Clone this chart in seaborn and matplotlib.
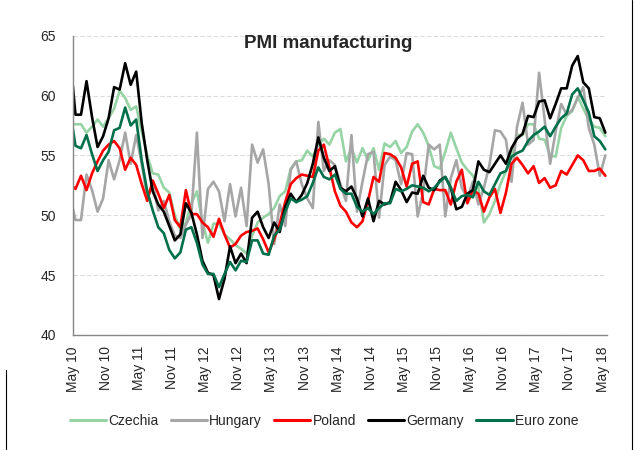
import numpy as np
import pandas as pd
import matplotlib
matplotlib.use('Agg')
import matplotlib.pyplot as plt
from matplotlib.lines import Line2D
import seaborn as sns

# Monthly PMI readings, Apr 2010 .. May 2018 (first point sits just left of the axis)
czechia = [57.6, 57.6, 57.6, 56.9, 57.4, 58.0, 57.4, 58.1, 58.9,
           60.4, 59.8, 58.8, 59.1, 57.0, 55.0, 53.5, 53.4, 52.3, 51.9, 50.0, 48.8,
           49.4, 51.0, 52.0, 49.4, 47.7, 49.3, 49.3, 48.4, 48.0, 47.5, 47.2, 46.8,
           48.3, 49.4, 49.8, 50.1, 50.6, 51.6, 52.0, 53.9, 54.5, 54.6, 55.4, 54.9,
           55.9, 56.4, 55.9, 56.9, 57.2, 54.5, 55.6, 54.4, 55.6, 54.6, 55.6, 53.8,
           56.0, 55.7, 56.2, 55.2, 55.7, 57.0, 57.6, 56.9, 55.8, 54.1, 53.9, 55.3,
           56.9, 55.6, 54.4, 53.8, 53.3, 52.3, 49.4, 50.1, 51.2, 52.6, 53.7, 55.1,
           56.7, 56.7, 57.6, 57.6, 56.4, 56.3, 55.0, 54.9, 57.3, 58.3, 58.7, 59.9,
           58.9, 58.0, 57.4, 57.3, 56.6]
hungary = [51.6, 49.6, 49.6, 53.4, 52.1, 50.3, 51.4, 54.6, 53.0,
           54.6, 56.9, 54.3, 56.7, 54.3, 51.5, 52.6, 50.4, 51.2, 49.5, 48.3, 48.1,
           49.2, 50.1, 56.9, 48.1, 52.2, 52.8, 52.0, 49.5, 52.6, 49.9, 52.3, 49.1,
           55.9, 54.4, 55.5, 52.6, 47.6, 50.9, 49.1, 53.8, 54.5, 52.6, 51.4, 50.6,
           57.8, 53.7, 54.6, 54.2, 52.6, 51.2, 56.7, 50.3, 52.8, 55.1, 55.3, 49.8,
           54.2, 54.9, 54.6, 52.6, 55.2, 55.1, 49.9, 52.0, 55.9, 55.5, 55.9, 49.9,
           53.1, 54.6, 52.3, 51.4, 52.8, 50.9, 52.3, 54.2, 57.1, 57.0, 56.3, 52.8,
           57.4, 59.4, 55.9, 56.3, 61.9, 58.0, 54.3, 57.0, 59.3, 58.4, 58.8, 59.8,
           60.7, 57.3, 55.9, 53.3, 55.0]
poland = [52.6, 52.2, 53.3, 52.1, 53.5, 54.5, 55.4, 55.9, 56.2,
          55.6, 53.8, 54.8, 54.2, 52.6, 51.2, 52.9, 51.8, 50.6, 51.7, 49.6, 49.0,
          52.1, 50.1, 50.1, 49.4, 49.0, 48.2, 49.7, 48.4, 47.3, 47.6, 48.3, 48.6,
          48.7, 48.9, 48.0, 46.9, 48.0, 49.3, 51.1, 52.6, 53.1, 53.4, 53.3, 53.2,
          55.4, 55.9, 54.0, 52.0, 50.8, 50.3, 49.4, 49.0, 49.5, 51.2, 53.2, 52.8,
          55.2, 55.1, 54.8, 54.0, 52.4, 54.3, 54.5, 51.1, 50.9, 52.2, 52.1, 52.1,
          50.9, 52.8, 53.8, 51.0, 52.1, 51.8, 50.3, 51.5, 52.2, 50.2, 51.9, 54.3,
          54.8, 54.2, 53.5, 54.1, 52.7, 53.1, 52.3, 52.5, 53.7, 53.4, 54.2, 55.0,
          54.6, 53.7, 53.7, 53.9, 53.3]
germany = [63.4, 58.4, 58.4, 61.2, 58.2, 55.7, 56.6, 58.1, 60.7,
           60.5, 62.7, 60.9, 62.0, 57.7, 54.6, 52.0, 50.9, 50.3, 49.1, 47.9, 48.4,
           51.0, 50.2, 48.4, 46.2, 45.2, 45.0, 43.0, 44.7, 47.4, 46.0, 46.8, 46.0,
           49.8, 50.3, 49.0, 48.1, 49.4, 48.6, 50.7, 51.8, 51.1, 51.7, 52.7, 54.3,
           56.5, 54.8, 53.7, 54.1, 52.3, 52.0, 52.4, 51.4, 49.9, 51.4, 49.5, 51.2,
           50.9, 51.1, 52.8, 52.1, 51.1, 51.9, 51.8, 53.3, 52.3, 52.1, 52.9, 53.2,
           52.3, 50.5, 50.7, 51.8, 52.1, 54.5, 53.8, 53.6, 54.3, 55.0, 54.3, 55.6,
           56.4, 56.8, 58.3, 58.2, 59.5, 59.6, 58.1, 59.3, 60.6, 60.6, 62.5, 63.3,
           61.1, 60.6, 58.2, 58.1, 56.9]
euro_zone = [58.8, 55.8, 55.6, 56.7, 55.1, 53.7, 54.6, 55.3, 57.1,
             57.3, 59.0, 57.5, 58.0, 54.6, 52.0, 50.4, 49.0, 48.5, 47.1, 46.4, 46.9,
             48.8, 49.0, 47.7, 45.9, 45.1, 45.1, 44.0, 45.1, 46.1, 45.4, 46.2, 46.1,
             47.9, 47.9, 46.8, 46.7, 48.3, 48.8, 50.3, 51.4, 51.1, 51.3, 51.6, 52.7,
             54.0, 53.2, 53.0, 53.4, 52.2, 51.8, 51.8, 50.7, 50.3, 50.6, 50.1, 50.6,
             51.0, 51.0, 52.2, 52.0, 52.2, 52.5, 52.4, 52.3, 52.0, 52.3, 52.8, 53.2,
             52.3, 51.2, 51.6, 51.7, 51.5, 52.8, 52.0, 51.7, 52.6, 53.5, 53.7, 54.9,
             55.2, 55.4, 56.2, 56.7, 57.0, 57.4, 56.6, 57.4, 58.1, 58.5, 60.1, 60.6,
             59.6, 58.6, 56.6, 56.2, 55.5]

tick_labels = ['May 10', 'Nov 10', 'May 11', 'Nov 11', 'May 12', 'Nov 12',
               'May 13', 'Nov 13', 'May 14', 'Nov 14', 'May 15', 'Nov 15',
               'May 16', 'Nov 16', 'May 17', 'Nov 17', 'May 18']

series = {'Czechia': czechia, 'Hungary': hungary, 'Poland': poland,
          'Germany': germany, 'Euro zone': euro_zone}
colors = {'Czechia': '#96d4a5', 'Hungary': '#a6a6a6', 'Poland': '#ff0000',
          'Germany': '#000000', 'Euro zone': '#00704a'}

sns.set_style('white')
plt.rcParams['font.family'] = ['Liberation Sans', 'DejaVu Sans']

fig = plt.figure(figsize=(6.43, 4.5), dpi=100)
ax = fig.add_axes([0.1131, 0.2556, 0.8309, 0.6651])

for name, vals in series.items():
    df = pd.DataFrame({'month': np.arange(len(vals)), 'pmi': vals})
    sns.lineplot(data=df, x='month', y='pmi', ax=ax, color=colors[name],
                 linewidth=1.9, label=name, legend=False)

ax.set_xlim(0.5, 97.3)
ax.set_ylim(40, 65)
ax.set_yticks(range(40, 66, 5))
ax.set_xticks(np.arange(1, 98, 6) - 0.5)
ax.set_xticklabels(tick_labels, rotation=90, fontsize=10)
ax.tick_params(axis='y', labelsize=10, length=4, direction='out', color='#868686',
               width=1, pad=8)
ax.tick_params(axis='x', length=5, direction='out', color='#868686', width=1, pad=3)
ax.set_xlabel('')
ax.set_ylabel('')

ax.yaxis.grid(True, color='#dcdcdc', linestyle=(0, (4, 2)), linewidth=0.8)
ax.xaxis.grid(False)
ax.set_axisbelow(True)
for side in ['top', 'right']:
    ax.spines[side].set_visible(False)
for side in ['left', 'bottom']:
    ax.spines[side].set_color('#868686')
    ax.spines[side].set_linewidth(1)

fig.text(328 / 643, 1 - 48 / 450, 'PMI manufacturing', ha='center', va='baseline',
         fontsize=13.5, fontweight='bold')

handles = [Line2D([], [], color=colors[n], linewidth=2.2) for n in series]
fig.legend(handles, list(series.keys()), loc='center',
           bbox_to_anchor=(324 / 643, 1 - 421 / 450), ncol=5, frameon=False,
           fontsize=10, handlelength=2.6, handletextpad=0.15, columnspacing=0.9)

# thin frame lines visible at the picture edges
fig.add_artist(Line2D([632 / 643, 632 / 643], [0, 1], color='black', linewidth=0.8))
fig.add_artist(Line2D([6 / 643, 6 / 643], [0, 80 / 450], color='black', linewidth=0.8))

fig.savefig('out.png', dpi=100)
